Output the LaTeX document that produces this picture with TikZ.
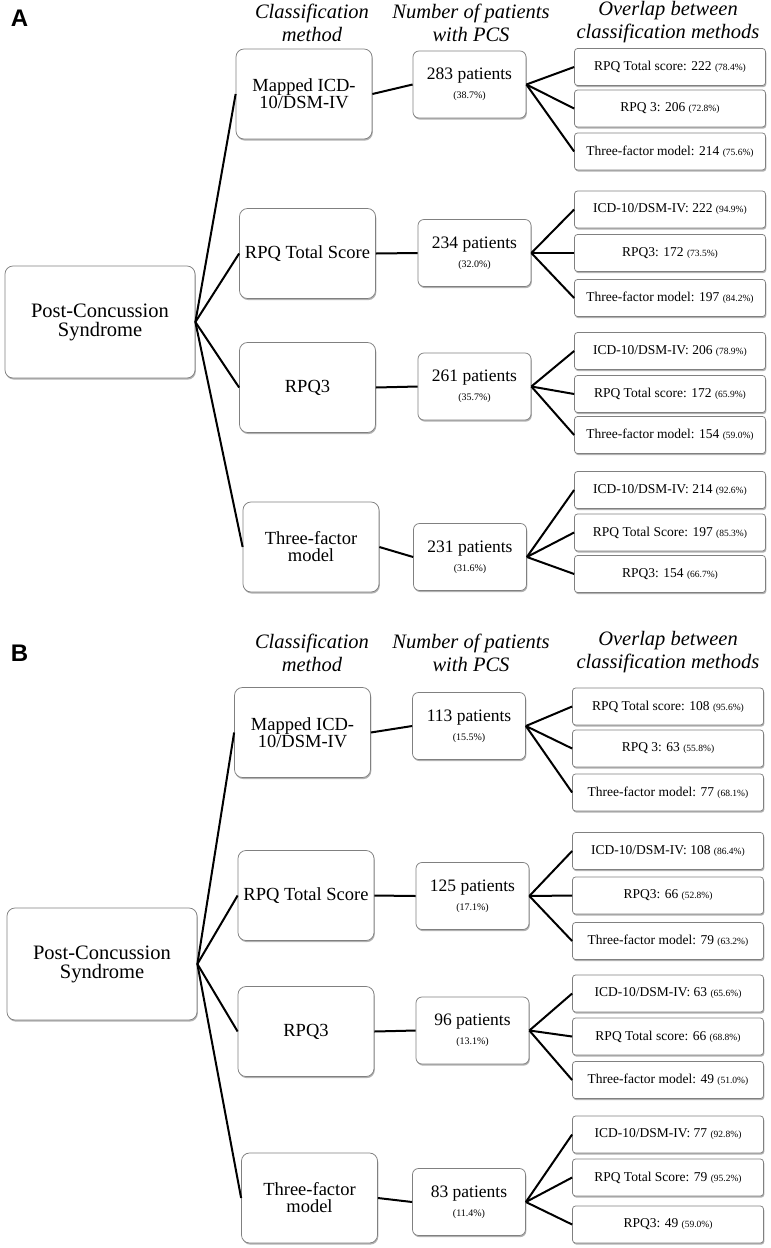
\documentclass[tikz,border=0pt]{standalone}
\usepackage{fontspec}
\setmainfont{Liberation Serif}
\newfontfamily\panelfont{Liberation Sans}
\usetikzlibrary{shadows}
\newcommand{\mypc}[1]{{\fontsize{9.5}{10}\selectfont(#1\%)}}
\newcommand{\mypp}[1]{{\fontsize{10}{12}\selectfont(#1\%)}}
\tikzset{
  boxbase/.style={draw=black!50, line width=0.75pt, fill=white, inner sep=0pt, align=center,
    drop shadow={shadow xshift=0.8pt, shadow yshift=-1.6pt, fill=black, opacity=0.3}},
  rootbox/.style={boxbase, rounded corners=8pt, minimum width=190pt, minimum height=112pt,
    font=\fontsize{20.5}{19}\selectfont},
  clsbox/.style={boxbase, rounded corners=8pt, minimum width=136pt, minimum height=90pt,
    font=\fontsize{18.5}{17}\selectfont},
  patbox/.style={boxbase, rounded corners=6pt, minimum width=113pt, minimum height=67pt,
    font=\fontsize{17.5}{19}\selectfont},
  ovlbox/.style={boxbase, rounded corners=3pt, minimum width=191pt, minimum height=37pt,
    font=\fontsize{13.5}{14}\selectfont},
  hdr/.style={align=center, inner sep=0pt, font=\fontsize{20.5}{23}\selectfont\itshape},
  plabel/.style={inner sep=0pt, font=\fontsize{24}{24}\selectfont\panelfont\bfseries},
  conn/.style={line width=2pt, black}
}
\begin{document}
\begin{tikzpicture}[x=1pt,y=-1pt]
\useasboundingbox (0,0) rectangle (771,1248);
\fill[white] (0,0) rectangle (771,1248);

% ================= Panel A =================
\node[plabel] (labA) at (19.5,18.5) {A};
\node[hdr] (hA1) at (312,22.5) {Classification\\method};
\node[hdr] (hA2) at (471,22.5) {Number of patients\\with PCS};
\node[hdr] (hA3) at (668,22.5) {Overlap between\\classification methods};

\node[rootbox] (rA) at (100,322) {Post-Concussion\\Syndrome};
\node[clsbox] (cA1) at (304,94) {Mapped ICD-\\10/DSM-IV};
\node[clsbox] (cA2) at (307.5,253.5) {RPQ Total Score};
\node[clsbox] (cA3) at (307.5,387.5) {RPQ3};
\node[clsbox] (cA4) at (311,547) {Three-factor\\model};

\node[patbox] (pA1) at (469.5,84.5) {283 patients\\\mypp{38.7}};
\node[patbox] (pA2) at (474.5,253) {234 patients\\\mypp{32.0}};
\node[patbox] (pA3) at (474.5,386.5) {261 patients\\\mypp{35.7}};
\node[patbox] (pA4) at (470,557) {231 patients\\\mypp{31.6}};

\node[ovlbox] (oA11) at (670,67) {RPQ Total score: 222 \mypc{78.4}};
\node[ovlbox] (oA12) at (670,108.5) {RPQ 3: 206 \mypc{72.8}};
\node[ovlbox] (oA13) at (670,151.5) {Three-factor model: 214 \mypc{75.6}};
\node[ovlbox] (oA21) at (670,209.5) {ICD-10/DSM-IV: 222 \mypc{94.9}};
\node[ovlbox] (oA22) at (670,253) {RPQ3: 172 \mypc{73.5}};
\node[ovlbox] (oA23) at (670,298) {Three-factor model: 197 \mypc{84.2}};
\node[ovlbox] (oA31) at (670,351) {ICD-10/DSM-IV: 206 \mypc{78.9}};
\node[ovlbox] (oA32) at (670,394) {RPQ Total score: 172 \mypc{65.9}};
\node[ovlbox] (oA33) at (670,435) {Three-factor model: 154 \mypc{59.0}};
\node[ovlbox] (oA41) at (670,490) {ICD-10/DSM-IV: 214 \mypc{92.6}};
\node[ovlbox] (oA42) at (670,532.5) {RPQ Total Score: 197 \mypc{85.3}};
\node[ovlbox] (oA43) at (670,574) {RPQ3: 154 \mypc{66.7}};

\foreach \i in {1,2,3,4} {
  \draw[conn] (rA.east) -- (cA\i.west);
  \draw[conn] (cA\i.east) -- (pA\i.west);
  \foreach \j in {1,2,3} {
    \draw[conn] (pA\i.east) -- (oA\i\j.west);
  }
}

% ================= Panel B =================
\node[plabel] (labB) at (19.5,653.5) {B};
\node[hdr] (hB1) at (312,652.5) {Classification\\method};
\node[hdr] (hB2) at (471,652.5) {Number of patients\\with PCS};
\node[hdr] (hB3) at (668,652.5) {Overlap between\\classification methods};

\node[rootbox] (rB) at (102,964) {Post-Concussion\\Syndrome};
\node[clsbox] (cB1) at (302.5,732.5) {Mapped ICD-\\10/DSM-IV};
\node[clsbox] (cB2) at (306,895.5) {RPQ Total Score};
\node[clsbox] (cB3) at (306,1031.5) {RPQ3};
\node[clsbox] (cB4) at (309.5,1198) {Three-factor\\model};

\node[patbox] (pB1) at (469,726) {113 patients\\\mypp{15.5}};
\node[patbox] (pB2) at (472.5,896) {125 patients\\\mypp{17.1}};
\node[patbox] (pB3) at (472.5,1030.5) {96 patients\\\mypp{13.1}};
\node[patbox] (pB4) at (469,1202) {83 patients\\\mypp{11.4}};

\node[ovlbox] (oB11) at (668,706.5) {RPQ Total score: 108 \mypc{95.6}};
\node[ovlbox] (oB12) at (668,748.5) {RPQ 3: 63 \mypc{55.8}};
\node[ovlbox] (oB13) at (668,792.5) {Three-factor model: 77 \mypc{68.1}};
\node[ovlbox] (oB21) at (668,851) {ICD-10/DSM-IV: 108 \mypc{86.4}};
\node[ovlbox] (oB22) at (668,895.5) {RPQ3: 66 \mypc{52.8}};
\node[ovlbox] (oB23) at (668,941) {Three-factor model: 79 \mypc{63.2}};
\node[ovlbox] (oB31) at (668,993.5) {ICD-10/DSM-IV: 63 \mypc{65.6}};
\node[ovlbox] (oB32) at (668,1036.5) {RPQ Total score: 66 \mypc{68.8}};
\node[ovlbox] (oB33) at (668,1080) {Three-factor model: 49 \mypc{51.0}};
\node[ovlbox] (oB41) at (668,1134.5) {ICD-10/DSM-IV: 77 \mypc{92.8}};
\node[ovlbox] (oB42) at (668,1177.5) {RPQ Total Score: 79 \mypc{95.2}};
\node[ovlbox] (oB43) at (668,1224.5) {RPQ3: 49 \mypc{59.0}};

\foreach \i in {1,2,3,4} {
  \draw[conn] (rB.east) -- (cB\i.west);
  \draw[conn] (cB\i.east) -- (pB\i.west);
  \foreach \j in {1,2,3} {
    \draw[conn] (pB\i.east) -- (oB\i\j.west);
  }
}
\end{tikzpicture}
\end{document}
